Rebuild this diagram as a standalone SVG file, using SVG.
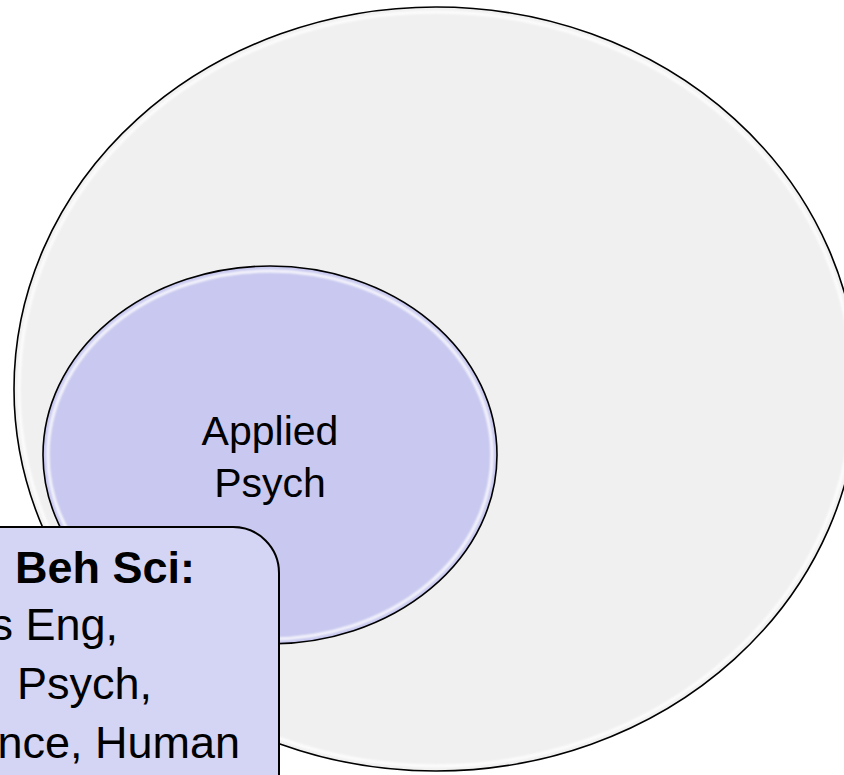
<svg xmlns="http://www.w3.org/2000/svg" width="844" height="775" viewBox="0 0 844 775">
  <defs>
    <filter id="soft" x="-5%" y="-5%" width="110%" height="110%">
      <feGaussianBlur stdDeviation="1.2"/>
    </filter>
  </defs>
  <style>
    .outline { stroke: #000; stroke-width: 1.6; }
    .hl { fill: none; stroke: #ffffff; stroke-width: 3; opacity: 0.85; }
    .label { font-family: "Liberation Sans", Arial, sans-serif; fill: #000; }
  </style>
  <rect x="0" y="0" width="844" height="775" fill="#ffffff"/>
  <g id="outer-circle">
    <ellipse cx="436" cy="389" rx="422" ry="382" fill="#f0f0f0" class="outline"/>
    <ellipse cx="436" cy="389" rx="417" ry="377" class="hl" filter="url(#soft)"/>
  </g>
  <g id="applied-psych">
    <ellipse cx="270" cy="455" rx="227" ry="189" fill="#c8c8f0" class="outline"/>
    <ellipse cx="270" cy="455" rx="222" ry="184" class="hl" filter="url(#soft)"/>
    <text class="label" x="270" y="445" font-size="41" text-anchor="middle">Applied</text>
    <text class="label" x="270" y="497" font-size="41" text-anchor="middle">Psych</text>
  </g>
  <g id="beh-sci-callout">
    <path d="M -10 527 H 233 A 46 46 0 0 1 279 573 V 790 H -10 Z" fill="#d4d4f4" stroke="#000" stroke-width="2"/>
    <text class="label" x="195" y="583" font-size="45" font-weight="bold" text-anchor="end">Beh Sci:</text>
    <text class="label" x="118" y="640" font-size="45" text-anchor="end">s Eng,</text>
    <text class="label" x="152" y="699" font-size="45" text-anchor="end">Psych,</text>
    <text class="label" x="240" y="758" font-size="45" text-anchor="end">nce, Human</text>
  </g>
  <g id="connectors"/>
</svg>
